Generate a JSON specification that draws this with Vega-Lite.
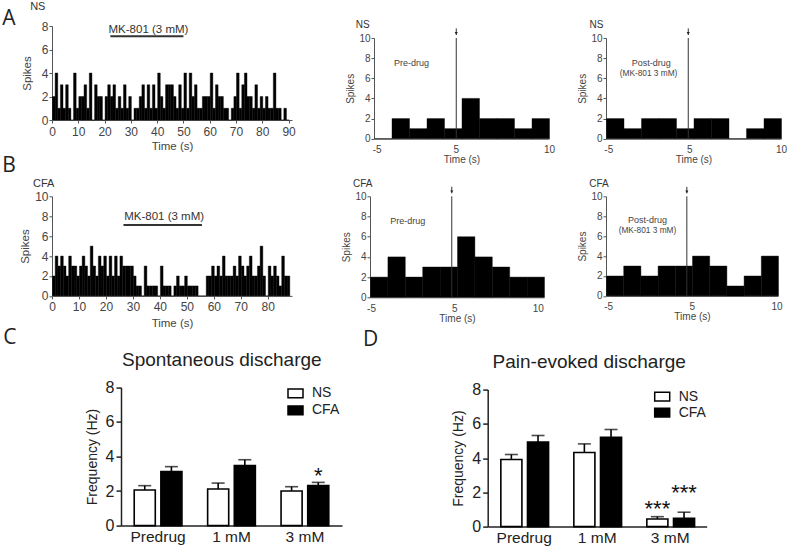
{
  "$schema": "https://vega.github.io/schema/vega-lite/v6.json",
  "background": "white",
  "padding": {"left": 2, "top": 0, "right": 0, "bottom": 0},
  "columns": 3,
  "spacing": {"row": 57.3, "column": 20},
  "bounds": "flush",
  "align": "each",
  "resolve": {"scale": {"fill": "independent"}, "legend": {"fill": "independent"}},
  "datasets": {
    "nsTrace": [
      {"t":0,"n":2},{"t":1,"n":4},{"t":2,"n":1},{"t":3,"n":3},{"t":4,"n":1},{"t":5,"n":3},{"t":6,"n":1},{"t":7,"n":0},{"t":8,"n":4},{"t":9,"n":1},
      {"t":10,"n":2},{"t":11,"n":2},{"t":12,"n":3},{"t":13,"n":1},{"t":14,"n":4},{"t":15,"n":0},{"t":16,"n":3},{"t":17,"n":2},{"t":18,"n":2},{"t":19,"n":0},
      {"t":20,"n":2},{"t":21,"n":3},{"t":22,"n":2},{"t":23,"n":3},{"t":24,"n":1},{"t":25,"n":2},{"t":26,"n":1},{"t":27,"n":3},{"t":28,"n":1},{"t":29,"n":2},
      {"t":30,"n":0},{"t":31,"n":1},{"t":32,"n":1},{"t":33,"n":2},{"t":34,"n":3},{"t":35,"n":1},{"t":36,"n":3},{"t":37,"n":1},{"t":38,"n":3},{"t":39,"n":1},
      {"t":40,"n":4},{"t":41,"n":2},{"t":42,"n":1},{"t":43,"n":3},{"t":44,"n":3},{"t":45,"n":3},{"t":46,"n":2},{"t":47,"n":1},{"t":48,"n":3},{"t":49,"n":1},
      {"t":50,"n":4},{"t":51,"n":1},{"t":52,"n":4},{"t":53,"n":2},{"t":54,"n":3},{"t":55,"n":1},{"t":56,"n":1},{"t":57,"n":2},{"t":58,"n":2},{"t":59,"n":2},
      {"t":60,"n":4},{"t":61,"n":1},{"t":62,"n":3},{"t":63,"n":2},{"t":64,"n":2},{"t":65,"n":1},{"t":66,"n":1},{"t":67,"n":0},{"t":68,"n":1},{"t":69,"n":2},
      {"t":70,"n":4},{"t":71,"n":1},{"t":72,"n":3},{"t":73,"n":4},{"t":74,"n":2},{"t":75,"n":2},{"t":76,"n":1},{"t":77,"n":3},{"t":78,"n":1},{"t":79,"n":2},
      {"t":80,"n":1},{"t":81,"n":2},{"t":82,"n":1},{"t":83,"n":1},{"t":84,"n":4},{"t":85,"n":1},{"t":86,"n":1},{"t":87,"n":0},{"t":88,"n":1},{"t":89,"n":0}
    ],
    "cfaTrace": [
      {"t":0,"n":2},{"t":1,"n":4},{"t":2,"n":3},{"t":3,"n":4},{"t":4,"n":3},{"t":5,"n":2},{"t":6,"n":4},{"t":7,"n":3},{"t":8,"n":3},{"t":9,"n":2},
      {"t":10,"n":3},{"t":11,"n":4},{"t":12,"n":3},{"t":13,"n":2},{"t":14,"n":5},{"t":15,"n":3},{"t":16,"n":2},{"t":17,"n":4},{"t":18,"n":3},{"t":19,"n":4},
      {"t":20,"n":2},{"t":21,"n":4},{"t":22,"n":2},{"t":23,"n":4},{"t":24,"n":2},{"t":25,"n":4},{"t":26,"n":3},{"t":27,"n":3},{"t":28,"n":3},{"t":29,"n":3},
      {"t":30,"n":2},{"t":31,"n":1},{"t":32,"n":1},{"t":33,"n":0},{"t":34,"n":3},{"t":35,"n":1},{"t":36,"n":1},{"t":37,"n":1},{"t":38,"n":1},{"t":39,"n":0},
      {"t":40,"n":3},{"t":41,"n":1},{"t":42,"n":1},{"t":43,"n":1},{"t":44,"n":0},{"t":45,"n":1},{"t":46,"n":2},{"t":47,"n":1},{"t":48,"n":1},{"t":49,"n":2},
      {"t":50,"n":1},{"t":51,"n":1},{"t":52,"n":1},{"t":53,"n":1},{"t":54,"n":0},{"t":55,"n":0},{"t":56,"n":0},{"t":57,"n":2},{"t":58,"n":2},{"t":59,"n":3},
      {"t":60,"n":2},{"t":61,"n":3},{"t":62,"n":2},{"t":63,"n":4},{"t":64,"n":2},{"t":65,"n":2},{"t":66,"n":2},{"t":67,"n":3},{"t":68,"n":2},{"t":69,"n":4},
      {"t":70,"n":3},{"t":71,"n":2},{"t":72,"n":3},{"t":73,"n":4},{"t":74,"n":2},{"t":75,"n":2},{"t":76,"n":3},{"t":77,"n":5},{"t":78,"n":2},{"t":79,"n":0},
      {"t":80,"n":3},{"t":81,"n":2},{"t":82,"n":3},{"t":83,"n":2},{"t":84,"n":1},{"t":85,"n":4},{"t":86,"n":2},{"t":87,"n":2}
    ],
    "nsPre": [{"u":0,"n":0},{"u":1,"n":2},{"u":2,"n":1},{"u":3,"n":2},{"u":4,"n":1},{"u":5,"n":4},{"u":6,"n":2},{"u":7,"n":2},{"u":8,"n":1},{"u":9,"n":2}],
    "nsPost": [{"u":0,"n":2},{"u":1,"n":1},{"u":2,"n":2},{"u":3,"n":2},{"u":4,"n":1},{"u":5,"n":2},{"u":6,"n":2},{"u":7,"n":0},{"u":8,"n":1},{"u":9,"n":2}],
    "cfaPre": [{"u":0,"n":2},{"u":1,"n":4},{"u":2,"n":2},{"u":3,"n":3},{"u":4,"n":3},{"u":5,"n":6},{"u":6,"n":4},{"u":7,"n":3},{"u":8,"n":2},{"u":9,"n":2}],
    "cfaPost": [{"u":0,"n":2},{"u":1,"n":3},{"u":2,"n":2},{"u":3,"n":3},{"u":4,"n":3},{"u":5,"n":4},{"u":6,"n":3},{"u":7,"n":1},{"u":8,"n":2},{"u":9,"n":4}],
    "spont": [
      {"dose":"Predrug","group":"NS","mean":2.06,"hi":2.31},
      {"dose":"Predrug","group":"CFA","mean":3.12,"hi":3.41},
      {"dose":"1 mM","group":"NS","mean":2.12,"hi":2.46},
      {"dose":"1 mM","group":"CFA","mean":3.47,"hi":3.81},
      {"dose":"3 mM","group":"NS","mean":2.0,"hi":2.25},
      {"dose":"3 mM","group":"CFA","mean":2.31,"hi":2.5}
    ],
    "pain": [
      {"dose":"Predrug","group":"NS","mean":3.92,"hi":4.21},
      {"dose":"Predrug","group":"CFA","mean":4.93,"hi":5.32},
      {"dose":"1 mM","group":"NS","mean":4.33,"hi":4.83},
      {"dose":"1 mM","group":"CFA","mean":5.22,"hi":5.67},
      {"dose":"3 mM","group":"NS","mean":0.44,"hi":0.58},
      {"dose":"3 mM","group":"CFA","mean":0.48,"hi":0.84}
    ],
    "spontSig": [{"dose":"3 mM","group":"CFA","y":2.47,"s":"*"}],
    "painSig": [{"dose":"3 mM","group":"NS","y":0.59,"s":"***"},{"dose":"3 mM","group":"CFA","y":1.56,"s":"***"}],
    "one": [{}]
  },
  "concat": [
    {
      "width": 297.3, "height": 94,
      "title": {"text": "A", "dx": -49.7, "dy": 32},
      "encoding": {
        "y": {"type": "quantitative", "scale": {"domain": [0, 8], "nice": false},
              "axis": {"values": [0,2,4,6,8], "title": "Spikes", "labelFontSize": 12, "titleFontSize": 11.5, "tickSize": 3, "labelPadding": 1, "titlePadding": 9, "labelOverlap": false}}
      },
      "layer": [
        {"data": {"name": "nsTrace"}, "mark": {"type": "bar", "color": "black", "binSpacing": 0, "stroke": "black", "strokeWidth": 0.4},
         "encoding": {
           "x": {"field": "t", "type": "quantitative", "bin": {"binned": true, "step": 1}, "scale": {"domain": [0, 91.3], "range": [0, 240], "nice": false, "zero": false},
                 "axis": {"values": [0,10,20,30,40,50,60,70,80,90], "title": "Time (s)", "labelFontSize": 12, "titleFontSize": 11.5, "tickSize": 3, "labelPadding": 3, "titlePadding": 3, "labelFlush": false, "labelOverlap": false}},
           "y": {"field": "n"}
         }},
        {"data": {"name": "one"}, "mark": {"type": "rule", "color": "#333", "strokeWidth": 2}, "encoding": {"x": {"datum": 22.2}, "x2": {"datum": 50}, "y": {"datum": 7.12}}},
        {"data": {"name": "one"}, "mark": {"type": "text", "fontSize": 11.5, "color": "#333"}, "encoding": {"x": {"datum": 36.7}, "y": {"datum": 7.7}, "text": {"value": "MK-801 (3 mM)"}}},
        {"data": {"name": "one"}, "mark": {"type": "text", "fontSize": 11, "color": "#333"}, "encoding": {"x": {"datum": -5.4}, "y": {"datum": 9.62}, "text": {"value": "NS"}}}
      ]
    },
    {
      "width": 216, "height": 112.7,
      "encoding": {
        "y": {"type": "quantitative", "scale": {"domain": [0, 10], "range": [112.7, 12], "nice": false},
              "axis": {"offset": -4, "values": [0,2,4,6,8,10], "title": "Spikes", "labelFontSize": 10, "titleFontSize": 10, "tickSize": 3, "labelPadding": 1, "titlePadding": 3, "labelOverlap": false}}
      },
      "layer": [
        {"data": {"name": "nsPre"}, "mark": {"type": "bar", "color": "black", "binSpacing": 0, "stroke": "black", "strokeWidth": 0.4},
         "encoding": {
           "x": {"field": "u", "type": "quantitative", "bin": {"binned": true, "step": 1}, "scale": {"domain": [0, 10], "range": [4, 179], "nice": false, "zero": false},
                 "axis": {"values": [0.15, 4.67, 10], "labelExpr": "datum.index == 0 ? '-5' : datum.index == 1 ? '10' : '5'", "title": "Time (s)", "labelFontSize": 10, "titleFontSize": 10, "ticks": false, "labelPadding": 6, "titlePadding": 0, "labelFlush": false, "labelOverlap": false}},
           "y": {"field": "n"}
         }},
        {"data": {"name": "one"}, "mark": {"type": "rule", "color": "#333", "strokeWidth": 1}, "encoding": {"x": {"datum": 4.7}, "y": {"datum": 0}, "y2": {"datum": 10}}},
        {"data": {"name": "one"}, "mark": {"type": "rule", "color": "#333", "strokeWidth": 1}, "encoding": {"x": {"datum": 4.7}, "y": {"datum": 10.3}, "y2": {"datum": 10.95}}},
        {"data": {"name": "one"}, "mark": {"type": "point", "shape": "triangle-down", "filled": true, "color": "#222", "size": 10, "opacity": 1}, "encoding": {"x": {"datum": 4.7}, "y": {"datum": 10.45}}},
        {"data": {"name": "one"}, "mark": {"type": "text", "fontSize": 9, "color": "#444"}, "encoding": {"x": {"datum": 2.14}, "y": {"datum": 7.5}, "text": {"value": "Pre-drug"}}},
        {"data": {"name": "one"}, "mark": {"type": "text", "fontSize": 10, "color": "#333"}, "encoding": {"x": {"datum": -0.65}, "y": {"datum": 11.26}, "text": {"value": "NS"}}}
      ]
    },
    {
      "width": 175, "height": 112.7,
      "encoding": {
        "y": {"type": "quantitative", "scale": {"domain": [0, 10], "range": [112.7, 12], "nice": false},
              "axis": {"values": [0,2,4,6,8,10], "title": "Spikes", "labelFontSize": 10, "titleFontSize": 10, "tickSize": 3, "labelPadding": 1, "titlePadding": 3, "labelOverlap": false}}
      },
      "layer": [
        {"data": {"name": "nsPost"}, "mark": {"type": "bar", "color": "black", "binSpacing": 0, "stroke": "black", "strokeWidth": 0.4},
         "encoding": {
           "x": {"field": "u", "type": "quantitative", "bin": {"binned": true, "step": 1}, "scale": {"domain": [0, 10], "nice": false, "zero": false},
                 "axis": {"values": [0.13, 4.76, 10], "labelExpr": "datum.index == 0 ? '-5' : datum.index == 1 ? '10' : '5'", "title": "Time (s)", "labelFontSize": 10, "titleFontSize": 10, "ticks": false, "labelPadding": 6, "titlePadding": 0, "labelFlush": false, "labelOverlap": false}},
           "y": {"field": "n"}
         }},
        {"data": {"name": "one"}, "mark": {"type": "rule", "color": "#333", "strokeWidth": 1}, "encoding": {"x": {"datum": 4.7}, "y": {"datum": 0}, "y2": {"datum": 10}}},
        {"data": {"name": "one"}, "mark": {"type": "rule", "color": "#333", "strokeWidth": 1}, "encoding": {"x": {"datum": 4.7}, "y": {"datum": 10.3}, "y2": {"datum": 10.95}}},
        {"data": {"name": "one"}, "mark": {"type": "point", "shape": "triangle-down", "filled": true, "color": "#222", "size": 10, "opacity": 1}, "encoding": {"x": {"datum": 4.7}, "y": {"datum": 10.45}}},
        {"data": {"name": "one"}, "mark": {"type": "text", "fontSize": 9, "color": "#444"}, "encoding": {"x": {"datum": 2.59}, "y": {"datum": 7.49}, "text": {"value": "Post-drug"}}},
        {"data": {"name": "one"}, "mark": {"type": "text", "fontSize": 8.3, "color": "#444"}, "encoding": {"x": {"datum": 2.43}, "y": {"datum": 6.46}, "text": {"value": "(MK-801 3 mM)"}}},
        {"data": {"name": "one"}, "mark": {"type": "text", "fontSize": 10, "color": "#333"}, "encoding": {"x": {"datum": -0.54}, "y": {"datum": 11.26}, "text": {"value": "NS"}}}
      ]
    },
    {
      "width": 297.3, "height": 99.6,
      "title": {"text": "B", "dx": -49.7, "dy": 2},
      "encoding": {
        "y": {"type": "quantitative", "scale": {"domain": [0, 10], "nice": false},
              "axis": {"values": [0,2,4,6,8,10], "title": "Spikes", "labelFontSize": 12, "titleFontSize": 11.5, "tickSize": 3, "labelPadding": 1, "titlePadding": 4, "labelOverlap": false}}
      },
      "layer": [
        {"data": {"name": "cfaTrace"}, "mark": {"type": "bar", "color": "black", "binSpacing": 0, "stroke": "black", "strokeWidth": 0.4},
         "encoding": {
           "x": {"field": "t", "type": "quantitative", "bin": {"binned": true, "step": 1}, "scale": {"domain": [0, 89], "range": [0, 240], "nice": false, "zero": false},
                 "axis": {"values": [0,10,20,30,40,50,60,70,80], "title": "Time (s)", "labelFontSize": 12, "titleFontSize": 11.5, "tickSize": 3, "labelPadding": 3, "titlePadding": 5, "labelFlush": false, "labelOverlap": false}},
           "y": {"field": "n"}
         }},
        {"data": {"name": "one"}, "mark": {"type": "rule", "color": "#333", "strokeWidth": 2}, "encoding": {"x": {"datum": 26.5}, "x2": {"datum": 55.6}, "y": {"datum": 7.12}}},
        {"data": {"name": "one"}, "mark": {"type": "text", "fontSize": 11.5, "color": "#333"}, "encoding": {"x": {"datum": 41.6}, "y": {"datum": 7.89}, "text": {"value": "MK-801 (3 mM)"}}},
        {"data": {"name": "one"}, "mark": {"type": "text", "fontSize": 11, "color": "#333"}, "encoding": {"x": {"datum": -3.1}, "y": {"datum": 11.2}, "text": {"value": "CFA"}}}
      ]
    },
    {
      "width": 216, "height": 101,
      "encoding": {
        "y": {"type": "quantitative", "scale": {"domain": [0, 10], "nice": false},
              "axis": {"values": [0,2,4,6,8,10], "title": "Spikes", "labelFontSize": 10, "titleFontSize": 10, "tickSize": 3, "labelPadding": 1, "titlePadding": 3, "labelOverlap": false}}
      },
      "layer": [
        {"data": {"name": "cfaPre"}, "mark": {"type": "bar", "color": "black", "binSpacing": 0, "stroke": "black", "strokeWidth": 0.4},
         "encoding": {
           "x": {"field": "u", "type": "quantitative", "bin": {"binned": true, "step": 1}, "scale": {"domain": [0, 10], "range": [0, 174], "nice": false, "zero": false},
                 "axis": {"values": [0.06, 4.84, 9.64], "labelExpr": "datum.index == 0 ? '-5' : datum.index == 1 ? '10' : '5'", "title": "Time (s)", "labelFontSize": 10, "titleFontSize": 10, "ticks": false, "labelPadding": 6, "titlePadding": 0, "labelFlush": false, "labelOverlap": false}},
           "y": {"field": "n"}
         }},
        {"data": {"name": "one"}, "mark": {"type": "rule", "color": "#333", "strokeWidth": 1}, "encoding": {"x": {"datum": 4.7}, "y": {"datum": 0}, "y2": {"datum": 10}}},
        {"data": {"name": "one"}, "mark": {"type": "rule", "color": "#333", "strokeWidth": 1}, "encoding": {"x": {"datum": 4.7}, "y": {"datum": 10.3}, "y2": {"datum": 10.95}}},
        {"data": {"name": "one"}, "mark": {"type": "point", "shape": "triangle-down", "filled": true, "color": "#222", "size": 10, "opacity": 1}, "encoding": {"x": {"datum": 4.7}, "y": {"datum": 10.45}}},
        {"data": {"name": "one"}, "mark": {"type": "text", "fontSize": 9, "color": "#444"}, "encoding": {"x": {"datum": 2.17}, "y": {"datum": 7.52}, "text": {"value": "Pre-drug"}}},
        {"data": {"name": "one"}, "mark": {"type": "text", "fontSize": 10, "color": "#333"}, "encoding": {"x": {"datum": -0.42}, "y": {"datum": 11.25}, "text": {"value": "CFA"}}}
      ]
    },
    {
      "width": 172, "height": 99.6,
      "encoding": {
        "y": {"type": "quantitative", "scale": {"domain": [0, 10], "nice": false},
              "axis": {"values": [0,2,4,6,8,10], "title": "Spikes", "labelFontSize": 10, "titleFontSize": 10, "tickSize": 3, "labelPadding": 1, "titlePadding": 3, "labelOverlap": false}}
      },
      "layer": [
        {"data": {"name": "cfaPost"}, "mark": {"type": "bar", "color": "black", "binSpacing": 0, "stroke": "black", "strokeWidth": 0.4},
         "encoding": {
           "x": {"field": "u", "type": "quantitative", "bin": {"binned": true, "step": 1}, "scale": {"domain": [0, 10], "nice": false, "zero": false},
                 "axis": {"values": [0.13, 4.99, 9.92], "labelExpr": "datum.index == 0 ? '-5' : datum.index == 1 ? '10' : '5'", "title": "Time (s)", "labelFontSize": 10, "titleFontSize": 10, "ticks": false, "labelPadding": 6, "titlePadding": 0, "labelFlush": false, "labelOverlap": false}},
           "y": {"field": "n"}
         }},
        {"data": {"name": "one"}, "mark": {"type": "rule", "color": "#333", "strokeWidth": 1}, "encoding": {"x": {"datum": 4.7}, "y": {"datum": 0}, "y2": {"datum": 10}}},
        {"data": {"name": "one"}, "mark": {"type": "rule", "color": "#333", "strokeWidth": 1}, "encoding": {"x": {"datum": 4.7}, "y": {"datum": 10.3}, "y2": {"datum": 10.95}}},
        {"data": {"name": "one"}, "mark": {"type": "point", "shape": "triangle-down", "filled": true, "color": "#222", "size": 10, "opacity": 1}, "encoding": {"x": {"datum": 4.7}, "y": {"datum": 10.45}}},
        {"data": {"name": "one"}, "mark": {"type": "text", "fontSize": 9, "color": "#444"}, "encoding": {"x": {"datum": 2.41}, "y": {"datum": 7.6}, "text": {"value": "Post-drug"}}},
        {"data": {"name": "one"}, "mark": {"type": "text", "fontSize": 8.3, "color": "#444"}, "encoding": {"x": {"datum": 2.41}, "y": {"datum": 6.49}, "text": {"value": "(MK-801 3 mM)"}}},
        {"data": {"name": "one"}, "mark": {"type": "text", "fontSize": 10, "color": "#333"}, "encoding": {"x": {"datum": -0.41}, "y": {"datum": 11.2}, "text": {"value": "CFA"}}}
      ]
    },
    {
      "width": 297.3, "height": 171,
      "title": {"text": "C", "dx": -48.7, "dy": 1},
      "encoding": {
        "x": {"field": "dose", "type": "nominal", "scale": {"domain": ["Predrug", "1 mM", "3 mM"], "range": [69, 290], "paddingInner": 0.35, "paddingOuter": 0.18},
              "axis": {"title": null, "labelAngle": 0, "labelFontSize": 15.5, "labelColor": "#222", "domainColor": "#222", "domainWidth": 1.5, "ticks": false, "labelPadding": 4}},
        "xOffset": {"field": "group", "type": "nominal", "scale": {"domain": ["NS", "CFA"], "paddingInner": 0.21, "paddingOuter": 0}}
      },
      "layer": [
        {"data": {"name": "spont"}, "mark": {"type": "rule", "color": "black", "strokeWidth": 1.6},
         "encoding": {"y": {"field": "mean", "type": "quantitative"}, "y2": {"field": "hi"}}},
        {"data": {"name": "spont"}, "mark": {"type": "tick", "color": "black", "thickness": 1.6, "size": 13, "orient": "horizontal"},
         "encoding": {"y": {"field": "hi", "type": "quantitative"}}},
        {"data": {"name": "spont"}, "mark": {"type": "bar", "stroke": "black", "strokeWidth": 1.6},
         "encoding": {
           "y": {"field": "mean", "type": "quantitative", "scale": {"domain": [0, 8], "range": [171, 32.7], "nice": false},
                 "axis": {"offset": -69, "values": [0,2,4,6,8], "title": "Frequency (Hz)", "labelFontSize": 16, "titleFontSize": 14, "labelColor": "#222", "titleColor": "#222", "domainColor": "#222", "tickColor": "#222", "domainWidth": 1.5, "tickWidth": 1.5, "tickSize": 5, "labelPadding": 2, "titlePadding": 6}},
           "fill": {"field": "group", "type": "nominal", "scale": {"domain": ["NS", "CFA"], "range": ["white", "black"]},
                    "legend": {"title": null, "orient": "none", "legendX": 235, "legendY": 30.2, "padding": 0, "labelFontSize": 14, "labelColor": "#222", "labelFont": "Liberation Sans", "symbolType": "M-1,-0.58H1V0.58H-1Z", "symbolSize": 225, "symbolStrokeColor": "black", "symbolStrokeWidth": 1.5, "labelOffset": 8, "rowPadding": 1}}
         }},
        {"data": {"name": "spontSig"}, "mark": {"type": "text", "fontSize": 22, "baseline": "alphabetic", "color": "#111"},
         "encoding": {"y": {"field": "y", "type": "quantitative"}, "text": {"field": "s"}}},
        {"data": {"name": "one"}, "mark": {"type": "text", "fontSize": 19, "color": "#222", "baseline": "middle", "dx": -9.7},
         "encoding": {"x": {"datum": "1 mM"}, "xOffset": null, "y": {"datum": 9.56}, "text": {"value": "Spontaneous discharge"}}}
      ]
    },
    {
      "width": 216, "height": 172,
      "title": {"text": "D", "dx": -7, "dy": 1},
      "encoding": {
        "x": {"field": "dose", "type": "nominal", "scale": {"domain": ["Predrug", "1 mM", "3 mM"], "range": [117.7, 336.7], "paddingInner": 0.36, "paddingOuter": 0.18},
              "axis": {"title": null, "labelAngle": 0, "labelFontSize": 15.5, "labelColor": "#222", "domainColor": "#222", "domainWidth": 1.5, "ticks": false, "labelPadding": 4}},
        "xOffset": {"field": "group", "type": "nominal", "scale": {"domain": ["NS", "CFA"], "paddingInner": 0.21, "paddingOuter": 0}}
      },
      "layer": [
        {"data": {"name": "pain"}, "mark": {"type": "rule", "color": "black", "strokeWidth": 1.6},
         "encoding": {"y": {"field": "mean", "type": "quantitative"}, "y2": {"field": "hi"}}},
        {"data": {"name": "pain"}, "mark": {"type": "tick", "color": "black", "thickness": 1.6, "size": 13, "orient": "horizontal"},
         "encoding": {"y": {"field": "hi", "type": "quantitative"}}},
        {"data": {"name": "pain"}, "mark": {"type": "bar", "stroke": "black", "strokeWidth": 1.6},
         "encoding": {
           "y": {"field": "mean", "type": "quantitative", "scale": {"domain": [0, 8], "range": [172, 35], "nice": false},
                 "axis": {"offset": -117.7, "values": [0,2,4,6,8], "title": "Frequency (Hz)", "labelFontSize": 16, "titleFontSize": 14, "labelColor": "#222", "titleColor": "#222", "domainColor": "#222", "tickColor": "#222", "domainWidth": 1.5, "tickWidth": 1.5, "tickSize": 5, "labelPadding": 2, "titlePadding": 6}},
           "fill": {"field": "group", "type": "nominal", "scale": {"domain": ["NS", "CFA"], "range": ["white", "black"]},
                    "legend": {"title": null, "orient": "none", "legendX": 283.7, "legendY": 33.5, "padding": 0, "labelFontSize": 14, "labelColor": "#222", "labelFont": "Liberation Sans", "symbolType": "M-1,-0.58H1V0.58H-1Z", "symbolSize": 225, "symbolStrokeColor": "black", "symbolStrokeWidth": 1.5, "labelOffset": 8, "rowPadding": 0}}
         }},
        {"data": {"name": "painSig"}, "mark": {"type": "text", "fontSize": 22, "baseline": "alphabetic", "color": "#111"},
         "encoding": {"y": {"field": "y", "type": "quantitative"}, "text": {"field": "s"}}},
        {"data": {"name": "one"}, "mark": {"type": "text", "fontSize": 19, "color": "#222", "baseline": "middle", "dx": -8},
         "encoding": {"x": {"datum": "1 mM"}, "xOffset": null, "y": {"datum": 9.59}, "text": {"value": "Pain-evoked discharge"}}}
      ]
    }
  ],
  "config": {
    "view": {"stroke": null},
    "font": "Liberation Sans",
    "axis": {"grid": false, "labelFont": "Liberation Sans", "titleFont": "Liberation Sans", "titleFontWeight": "normal", "domainColor": "#555", "tickColor": "#555", "labelColor": "#444", "titleColor": "#444"},
    "title": {"font": "Open Sans", "fontWeight": "normal", "color": "#222", "fontSize": 21, "anchor": "start", "frame": "group", "offset": 0}
  }
}
